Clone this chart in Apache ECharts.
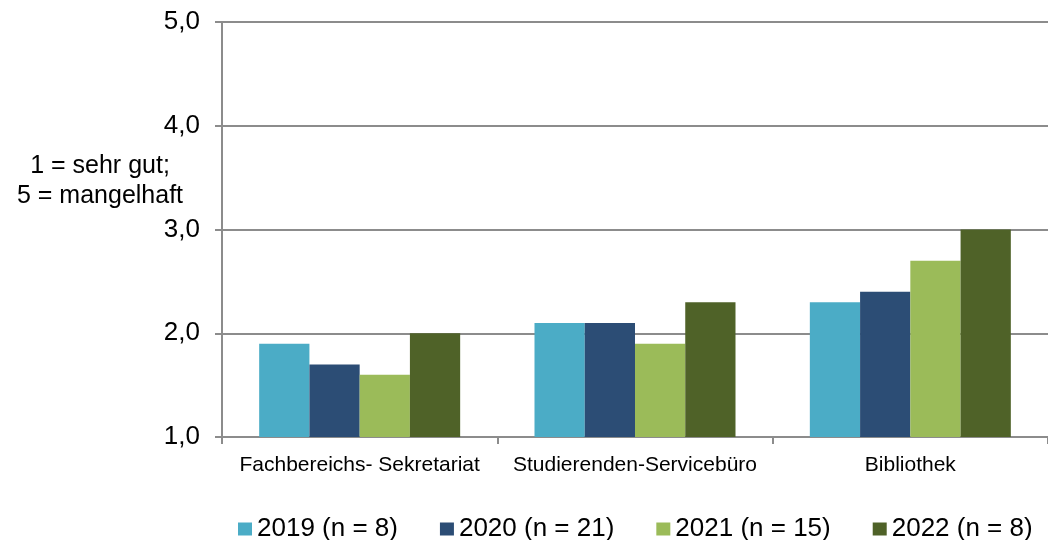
<!DOCTYPE html>
<html>
<head>
<meta charset="utf-8">
<script src="https://cdn.jsdelivr.net/npm/echarts@6/dist/echarts.min.js"></script>
<style>
  html, body { margin: 0; padding: 0; background: #fff; }
  #chart { width: 1048px; height: 540px; }
</style>
</head>
<body>
<div id="chart"></div>
<script>
const categories = ['Fachbereichs- Sekretariat', 'Studierenden-Servicebüro', 'Bibliothek']
const seriesNames = ['2019 (n = 8)', '2020 (n = 21)', '2021 (n = 15)', '2022 (n = 8)']
const v2019 = [1.9, 2.1, 2.3]
const v2020 = [1.7, 2.1, 2.4]
const v2021 = [1.6, 1.9, 2.7]
const v2022 = [2.0, 2.3, 3.0]
const colors = ['#4BACC6', '#2C4D75', '#9BBB59', '#4F6228']

const chart = echarts.init(document.getElementById('chart'))
const font = 'Liberation Sans, Arial, sans-serif'
const axisGray = '#8c8c8c'

const values = [v2019, v2020, v2021, v2022]
chart.setOption({
  animation: false,
  textStyle: { fontFamily: font },
  grid: { left: 222, right: -5, top: 22, bottom: 103 },
  legend: {
    top: 511,
    left: 233,
    itemWidth: 14,
    itemHeight: 13,
    itemGap: 42,
    icon: 'rect',
    textStyle: { fontSize: 26, color: '#000', fontFamily: font },
    data: seriesNames
  },
  graphic: [
    {
      type: 'text',
      x: 100,
      y: 151,
      style: {
        text: '1 = sehr gut;\n5 = mangelhaft',
        fontSize: 25,
        lineHeight: 30,
        fill: '#000',
        align: 'center',
        fontFamily: font
      }
    }
  ],
  xAxis: {
    type: 'category',
    data: categories,
    axisLine: { lineStyle: { color: axisGray, width: 2 } },
    axisTick: { show: true, interval: 0, length: 7, lineStyle: { color: axisGray, width: 2 } },
    axisLabel: { interval: 0, fontSize: 21, color: '#000', margin: 18 }
  },
  yAxis: {
    type: 'value',
    min: 1,
    max: 5,
    interval: 1,
    axisLine: { show: true, lineStyle: { color: axisGray, width: 2 } },
    axisTick: { show: true, length: 7, lineStyle: { color: axisGray, width: 2 } },
    splitLine: { lineStyle: { color: axisGray, width: 2 } },
    axisLabel: {
      fontSize: 26,
      color: '#000',
      margin: 22,
      formatter: v => v.toFixed(1).replace('.', ',')
    }
  },
  series: seriesNames.map((name, i) => ({
    name: name,
    type: 'bar',
    data: values[i],
    barGap: '0%',
    barCategoryGap: '27%',
    itemStyle: { color: colors[i] }
  }))
})
</script>
</body>
</html>
